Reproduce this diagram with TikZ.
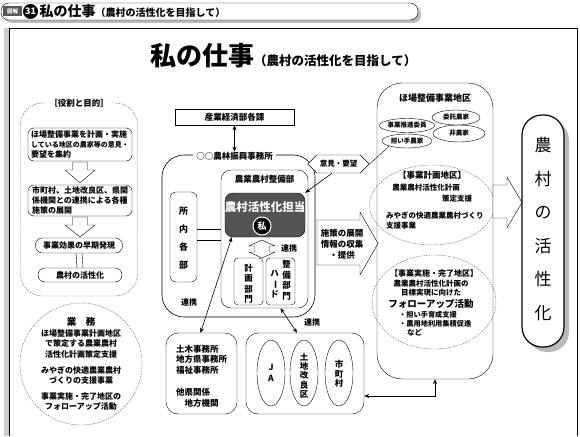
\documentclass[tikz,border=0pt]{standalone}
\usepackage{fontspec}
\setmainfont{Noto Sans CJK JP}
\usepackage{graphicx}
\usetikzlibrary{calc,arrows.meta,shapes.geometric,shapes.symbols}

\tikzset{
  tsmall/.style={font=\fontsize{7.5}{9.5}\selectfont\bfseries, inner sep=0pt, align=center},
  txt/.style={font=\fontsize{8}{10.3}\selectfont\bfseries, inner sep=0pt, align=center},
  tmid/.style={font=\fontsize{8.5}{10.5}\selectfont\bfseries, inner sep=0pt, align=center},
  oval/.style={draw, ellipse, fill=white, inner sep=0pt},
  dotline/.style={draw=gray!80!black, dash pattern=on 1.5pt off 1pt},
  dbl/.style={{Stealth[length=5pt,width=4pt]}-{Stealth[length=5pt,width=4pt]}, semithick},
  hollow/.style={draw, fill=white, line join=miter},
}

\begin{document}
\begin{tikzpicture}[x=1pt,y=-1pt]
\useasboundingbox (0,0) rectangle (580,436);

\fill[gray!55, rounded corners=8pt] (4,6) rectangle (421,23);
\draw[fill=white, rounded corners=8pt] (1,3) rectangle (418,20);
\node[fill=gray!70!black, text=white, font=\fontsize{5.5}{6}\selectfont\bfseries, minimum width=19pt, minimum height=10pt, inner sep=0pt] (zukai) at (12.5,11.5) {図解};
\node[circle, fill=black, draw=white, thick, text=white, font=\fontsize{9}{9}\selectfont\bfseries, minimum size=16pt, inner sep=0pt] (num) at (30.5,11.5) {31};
\node[anchor=west, inner sep=0pt, font=\bfseries] (hdr) at (39.5,11.5) {\fontsize{14}{14}\selectfont 私の仕事{\fontsize{10}{10}\selectfont（農村の活性化を目指して）}};

\fill[gray!40] (4,28) rectangle (9,436);
\draw (9,436) -- (9,28) -- (577,28) -- (577,436);

\node[anchor=base west, inner sep=0pt, font=\bfseries] (title) at (150,66) {\fontsize{26}{26}\selectfont 私の仕事{\fontsize{12.5}{12.5}\selectfont（農村の活性化を目指して）}};

\node[dotline, rounded corners=22pt, minimum width=117pt, minimum height=193pt] (role) at (79,199.5) {};
\node[tmid, fill=white, inner xsep=2pt] (roletitle) at (role.north) {［役割と目的］};
\node[draw, rounded corners=6pt, minimum width=104pt, minimum height=33pt, txt, align=left] (plan) at (80,144.5) {ほ場整備事業を計画・実施\\{\fontsize{7}{10.3}\selectfont している地区の農家等の意見・}\\要望を集約};
\draw[hollow] (72.5,162) -- (87.5,162) -- (87.5,170) -- (95,170) -- (80,183) -- (65,170) -- (72.5,170) -- cycle;
\node[draw, rounded corners=6pt, minimum width=104pt, minimum height=31pt, txt, align=left] (policy) at (80,200.5) {市町村、土地改良区、県関\\係機関との連携による各種\\施策の展開};
\draw[hollow] (72.5,217) -- (87.5,217) -- (87.5,225) -- (95,225) -- (80,237) -- (65,225) -- (72.5,225) -- cycle;
\node[draw, rounded corners=7pt, minimum width=87pt, minimum height=15pt, txt] (effect) at (79,245.5) {事業効果の早期発現};
\node[draw, rounded corners=7pt, minimum width=84pt, minimum height=14pt, txt] (revital) at (80,275) {農村の活性化};
\draw ([xshift=-3pt]effect.south) -- ([xshift=-3pt]revital.north);
\draw ([xshift=3pt]effect.south) -- ([xshift=3pt]revital.north);

\node[dotline, circle, minimum size=122pt] (duty) at (81,364) {};
\node[font=\fontsize{9.5}{10}\selectfont\bfseries, inner sep=0pt] (dutytitle) at (81,322) {業\quad 務};
\node[txt] (dutytext) at (81,370) {ほ場整備事業計画地区\\で策定する農業農村\\活性化計画策定支援\\[6pt]みやぎの快適農業農村\\づくりの支援事業\\[5pt]事業実施・完了地区の\\フォローアップ活動};

\node[draw, minimum width=119pt, minimum height=16pt, tmid] (sangyo) at (234.5,117) {産業経済部各課};
\node[draw, semithick, rounded corners=22pt, minimum width=153pt, minimum height=162pt] (office) at (238.5,236) {};
\node[tmid, fill=white, inner xsep=3pt] (officetitle) at (234.5,156) {○○農林振興事務所};
\draw[dbl] (sangyo.south) -- (officetitle.north);

\node[draw, rounded corners=10pt, minimum width=87pt, minimum height=138pt] (dept) at (264.5,239) {};
\node[tmid] (depttitle) at (264.5,179) {農業農村整備部};
\node[fill=gray!65!black, draw, rounded corners=8pt, minimum width=80pt, minimum height=44pt] (tanto) at (265,215) {};
\node[text=white, font=\fontsize{11.5}{11.5}\selectfont\bfseries, inner sep=0pt] (tantotext) at (265,207) {農村活性化担当};
\node[circle, fill=black, draw=white, line width=1pt, minimum size=18pt, inner sep=0pt, text=white, font=\fontsize{9}{9}\selectfont\bfseries] (me) at (262,226) {私};
\draw[hollow] (262,240) -- (275,246) -- (269.5,246) -- (269.5,252) -- (275,252) -- (262,258) -- (249,252) -- (254.5,252) -- (254.5,246) -- (249,246) -- cycle;
\node[txt] (renkeiB) at (289,248) {連携};
\node[draw, rounded corners=4pt, minimum width=29pt, minimum height=47pt] (plandiv) at (248.5,281.5) {};
\node[tmid] (plandivtext) at (248.5,284) {計\\画\\部\\門};
\node[draw, rounded corners=4pt, minimum width=29pt, minimum height=47pt] (harddiv) at (280.5,281.5) {};
\node[tmid] (harddivtext) at (286.5,280.5) {整\\備\\部\\門};
\node[tmid] (hardkana) at (274.5,284) {ハ\\\rotatebox[origin=c]{-90}{ー}\\ド};

\node[draw, rounded corners=6pt, minimum width=27pt, minimum height=90pt] (inner) at (183.5,237) {};
\node[font=\fontsize{9}{10}\selectfont\bfseries, inner sep=0pt, align=center] (innertext) at (183.5,238) {所\\[8pt]内\\[8pt]各\\[8pt]部};
\draw ($(inner.east)+(0,-8)$) -- ($(dept.west |- inner.east)+(0,-8)$);
\draw ($(inner.east)+(0,3)$) -- ($(dept.west |- inner.east)+(0,3)$);
\node[txt] (renkeiA) at (189,302) {連携};

\node[draw, rounded corners=12pt, minimum width=71pt, minimum height=81pt] (others) at (201.5,373.5) {};
\node[tmid, align=left] (otherstext) at (201.5,376) {土木事務所\\地方県事務所\\福祉事務所\\[12pt]他県関係\\\hspace{1em}地方機関};
\node[draw, rounded corners=12pt, minimum width=118pt, minimum height=81pt] (groups) at (305,373.5) {};
\node[oval, minimum width=28pt, minimum height=66pt] (ja) at (271,373) {};
\node[tmid] (jatext) at (271,373) {J\\A};
\node[oval, minimum width=28pt, minimum height=66pt] (lid) at (304,373) {};
\node[font=\fontsize{8.5}{9.3}\selectfont\bfseries, inner sep=0pt, align=center] (lidtext) at (304,375.5) {土\\地\\改\\良\\区};
\node[oval, minimum width=28pt, minimum height=66pt] (city) at (339,373) {};
\node[font=\fontsize{8.5}{9.3}\selectfont\bfseries, inner sep=0pt, align=center] (citytext) at (339,374) {市\\町\\村};

\draw[dbl] ([xshift=7pt]tanto.south west) -- ([xshift=-1pt]others.north);
\draw[dbl] ([xshift=16pt]dept.south) -- ([xshift=-8pt]groups.north);
\node[txt] (renkeiC) at (312,322) {連携};

\node[draw, rounded corners=25pt, minimum width=116pt, minimum height=296pt] (field) at (435,231) {};
\node[font=\fontsize{9}{10}\selectfont\bfseries, inner sep=0pt] (fieldtitle) at (435,98) {ほ場整備事業地区};
\node[oval, minimum width=52pt, minimum height=17pt, font=\fontsize{6.5}{7}\selectfont\bfseries] (nonfarm) at (459,133.5) {非農家};
\node[oval, minimum width=48pt, minimum height=15pt, font=\fontsize{6.5}{7}\selectfont\bfseries] (consign) at (456,117.5) {委託農家};
\node[oval, minimum width=50pt, minimum height=14pt, font=\fontsize{6.5}{7}\selectfont\bfseries] (leader) at (407,141) {担い手農家};
\node[oval, minimum width=52pt, minimum height=14pt, font=\fontsize{6.5}{7}\selectfont\bfseries] (promoter) at (407,125.5) {事業推進委員};

\node[signal, signal to=west and east, draw, fill=white, tsmall, inner xsep=3pt, minimum width=47pt, minimum height=18pt] (opinion) at (338.5,164) {意見・要望};
\draw (leader.south west) -- (opinion.east);
\draw[-{Stealth[length=5pt,width=4pt]}, semithick] (opinion.235) -- (tanto.north east);

\node[dotline, ellipse, minimum width=125pt, minimum height=80pt] (planarea) at (432,205) {};
\node[tmid] (planareatitle) at (432,175) {【事業計画地区】};
\node[tsmall] (planline) at (426,188) {農業農村活性化計画};
\node[tsmall] (planline2) at (457,199) {策定支援};
\node[tsmall, anchor=west, align=left] (planline3) at (386,220.5) {みやぎの快適農業農村づくり\\支援事業};

\node[dotline, ellipse, minimum width=124pt, minimum height=94pt] (donearea) at (434,302) {};
\node[font=\fontsize{8}{9}\selectfont\bfseries, inner sep=0pt] (doneareatitle) at (434,273) {【事業実施・完了地区】};
\node[tsmall] (doneline) at (431,288) {農業農村活性化計画の\\目標実現に向けた};
\node[font=\fontsize{9.5}{10}\selectfont\bfseries, inner sep=0pt] (followup) at (431,303.5) {フォローアップ活動};
\node[font=\fontsize{7.2}{9.5}\selectfont\bfseries, inner sep=0pt, anchor=west, align=left] (donelist) at (399,319) {・担い手育成支援\\・農用地利用集積促進};
\node[tsmall, anchor=west] (etc) at (407,333) {など};

\draw[hollow] (317,220) -- (360,220) -- (360,212) -- (378,243.5) -- (360,275) -- (360,265) -- (317,265) -- cycle;
\node[tmid, font=\fontsize{8.5}{11}\selectfont\bfseries] (shisaku) at (342,244) {施策の展開\\情報の収集\\・提供};

\draw[hollow] (493,185) -- (507,185) -- (507,177) -- (522,202.5) -- (507,228) -- (507,218) -- (493,218) -- cycle;
\fill[gray!55, rounded corners=20pt] (527,120) rectangle (569,352);
\node[draw, very thick, fill=white, rounded corners=20pt, minimum width=42pt, minimum height=232pt] (goal) at (543,231) {};
\node[font=\fontsize{17}{33.6}\selectfont, inner sep=0pt, align=center] (goaltext) at (543,229) {農\\村\\の\\活\\性\\化};

\draw[dbl] ($(groups.east)+(0,22.5)$) -| (field.south);

\end{tikzpicture}
\end{document}
